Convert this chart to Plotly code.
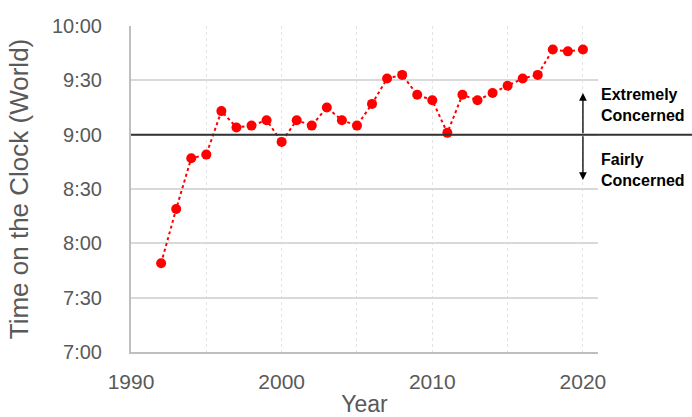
import plotly.graph_objects as go

years = list(range(1992, 2021))
clock_times = ["7:49", "8:19", "8:47", "8:49", "9:13", "9:04", "9:05", "9:08", "8:56",
               "9:08", "9:05", "9:15", "9:08", "9:05", "9:17", "9:31", "9:33", "9:22",
               "9:19", "9:01", "9:22", "9:19", "9:23", "9:27", "9:31", "9:33", "9:47",
               "9:46", "9:47"]
y_tick_labels = ["7:00", "7:30", "8:00", "8:30", "9:00", "9:30", "10:00"]
x_tick_years = [1990, 2000, 2010, 2020]
threshold_time = "9:00"
arrow_up_tip = "9:23"
arrow_down_tip = "8:35"
arrow_year = 2020
upper_label = "Extremely<br>Concerned"
lower_label = "Fairly<br>Concerned"


def to_min(t):
    h, m = t.split(":")
    return int(h) * 60 + int(m)


minutes = [to_min(t) for t in clock_times]
tick_vals = [to_min(t) for t in y_tick_labels]
thr = to_min(threshold_time)

FONT = "Liberation Sans, Arial, sans-serif"
GRAY = "#595959"

fig = go.Figure()
fig.add_trace(go.Scatter(
    x=years, y=minutes, mode="lines+markers",
    line=dict(color="#FF0000", width=2, dash="dot"),
    marker=dict(color="#FF0000", size=10),
    showlegend=False, cliponaxis=False,
))

fig.add_shape(type="line", xref="paper", yref="y", x0=0, x1=1.21, y0=thr, y1=thr,
              line=dict(color="#333333", width=2), layer="above")

for tip in (arrow_up_tip, arrow_down_tip):
    fig.add_annotation(x=arrow_year, y=to_min(tip), ax=arrow_year, ay=thr,
                       xref="x", yref="y", axref="x", ayref="y", text="",
                       showarrow=True, arrowhead=2, arrowsize=1.2, arrowwidth=1.3,
                       arrowcolor="#000000")

fig.add_annotation(x=1.002, xref="paper", y=(to_min(arrow_up_tip) + thr) / 2 + 5, yref="y",
                   text=upper_label, showarrow=False, xanchor="left", yanchor="middle",
                   align="left", font=dict(family=FONT, size=16, color="#000000", weight="bold"))
fig.add_annotation(x=1.002, xref="paper", y=(to_min(arrow_down_tip) + thr) / 2 - 7, yref="y",
                   text=lower_label, showarrow=False, xanchor="left", yanchor="middle",
                   align="left", font=dict(family=FONT, size=16, color="#000000", weight="bold"))

fig.update_layout(
    width=692, height=417,
    margin=dict(l=131, r=94, t=26, b=65),
    paper_bgcolor="white", plot_bgcolor="white",
    font=dict(family=FONT, color=GRAY),
    xaxis=dict(
        range=[1990, 2021], tickvals=x_tick_years, ticktext=[str(v) for v in x_tick_years],
        showgrid=True, gridcolor="#E3E3E3", griddash="dot", gridwidth=1,
        minor=dict(dtick=5, tick0=1990, showgrid=True, gridcolor="#E3E3E3", griddash="dot"),
        showline=True, linecolor="#BFBFBF", linewidth=2, zeroline=False,
        tickfont=dict(family=FONT, size=21, color=GRAY), ticklabelstandoff=10,
        title=dict(text="Year", font=dict(family=FONT, size=23, color=GRAY), standoff=7),
        automargin=False,
    ),
    yaxis=dict(
        range=[420, 600], tickvals=tick_vals, ticktext=y_tick_labels,
        showgrid=True, gridcolor="#D9D9D9", gridwidth=2,
        showline=True, linecolor="#BFBFBF", linewidth=2, zeroline=False,
        tickfont=dict(family=FONT, size=20, color=GRAY), ticklabelstandoff=23,
        title=dict(text="Time on the Clock (World)", font=dict(family=FONT, size=26, color=GRAY), standoff=16),
        automargin=False,
    ),
)

fig.write_html("out.html", config={"displayModeBar": False},
               post_script="document.body.style.margin='0';document.body.style.overflow='hidden';")
